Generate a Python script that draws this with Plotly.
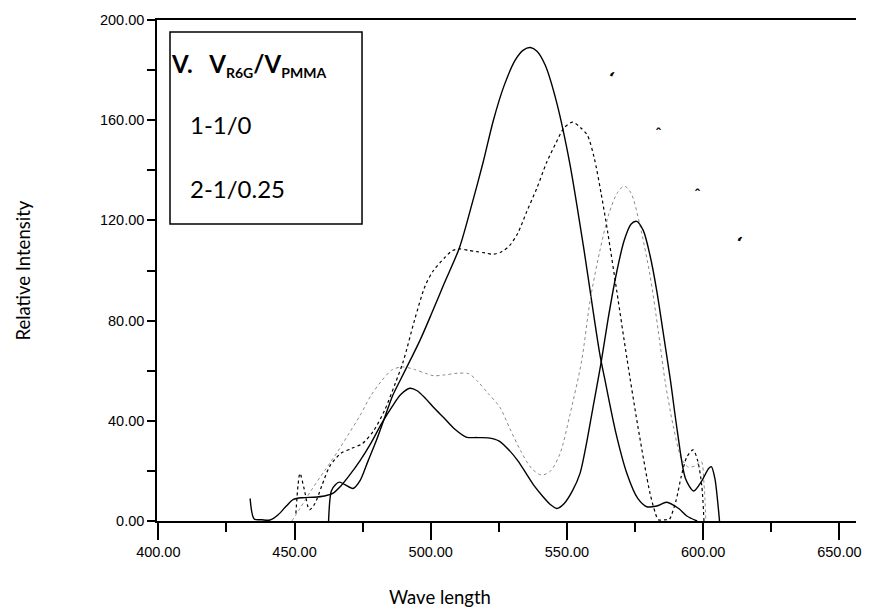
import plotly.graph_objects as go

# ---- data (wavelength nm, relative intensity) ----
a_x = [462.5, 463.5, 465, 466.5, 468.5, 471.5, 474, 477, 480, 483, 486, 488.7, 492.4, 496, 500, 505,
       510.5, 515, 519.3, 523, 527, 531, 534, 536.6, 539, 542, 546, 551, 556, 562, 564, 568, 572, 576,
       579.3, 583, 586.6, 591, 594, 597.8]
a_y = [0, 12, 14.5, 15.5, 14.5, 13, 16, 24, 32, 41, 50, 56, 64, 72, 82, 95,
       109, 126, 143.5, 160, 174, 184, 188, 189, 187.5, 182, 168, 143, 110, 67, 56, 35, 19, 9,
       5.7, 6, 7.5, 5, 2, 0]

b_x = [450.5, 452, 453.5, 455.5, 457.5, 460, 463, 467, 471, 475, 479, 483, 487, 490, 494, 498, 501,
       505, 508, 510.8, 514, 517, 520, 523, 526, 529, 532, 535.2, 539, 542.6, 546, 549, 552.1, 555,
       557.5, 560, 562.5, 565, 568.3, 572, 576, 580.5, 582.5, 583.5, 586.5, 587.5, 590, 592, 594,
       596.3, 598, 599.5, 600.3]
b_y = [3, 19, 13, 4.5, 7, 14, 22, 27, 29, 31, 36, 44, 55, 64, 80, 94, 100,
       105, 108, 108.6, 108, 107.5, 107, 106.5, 107.5, 110, 115, 123.4, 133, 143.3, 151, 157, 159.2, 157,
       154, 145, 131, 115, 91.7, 65, 38, 11, 3, 0.5, 0.5, 0.5, 8, 18, 25.5,
       28.4, 24, 14, 0]

c_x = [449, 452, 456, 461, 466, 470, 474, 478, 482, 486, 490, 494, 498, 501, 505, 510, 514, 517,
       521, 525.4, 529, 533, 537, 540.7, 544, 547.5, 551, 555.4, 558.5, 562, 565.5, 568.5, 571,
       573.5, 576.8, 580.5, 583.5, 586, 589, 592, 594.6, 597, 599.3, 600.3, 601]
c_y = [0, 5, 12, 20, 28, 35, 42, 50, 56, 60.5, 61.5, 60.5, 59, 58, 58.3, 59, 58.8, 56,
       51, 45.4, 37, 28, 21, 18.3, 20, 27, 42, 64, 88, 107.5, 123, 131, 133.7,
       131, 118, 98, 76, 56, 38, 25, 21.5, 22, 23.8, 15, 0]

d_x = [433.7, 435.2, 438, 441, 444, 447, 449.6, 453, 457, 461, 464, 467, 470, 474, 478, 482, 486,
       489, 492.4, 495, 498, 501, 505, 509, 513, 517, 521, 525, 529, 532, 535, 538, 541, 544, 546.3,
       549, 552, 554.8, 557, 559.5, 562.5, 565, 568, 571, 573.5, 575.6, 578, 580.5, 583, 585.5, 588,
       590.5, 593.5, 596.5, 599.5, 602, 603, 604.3, 605.3, 606]
d_y = [9, 0.8, 0.5, 0.4, 2.5, 6, 8.6, 9.3, 9.5, 10, 11, 14, 18, 24, 31, 39, 46,
       50.5, 53, 52, 49, 45.4, 41, 36.5, 33.5, 33.3, 33.2, 32, 28, 24, 19, 14, 10, 6.5, 5,
       7, 12, 19, 30, 45, 63, 80, 98, 112, 118.5, 119.6, 116, 106, 91.7, 74, 56,
       36, 17, 12, 16, 21, 21.7, 17, 8, 0]

x_ticks = [400, 450, 500, 550, 600, 650]
y_ticks = [0, 40, 80, 120, 160, 200]
x_title = "Wave length"
y_title = "Relative Intensity"
sub = "<sub><span style='font-size:14px'>{}</span></sub>"
legend_title = "V.&#160;&#160;&#160;V" + sub.format("R6G") + "/V" + sub.format("PMMA")
legend_rows = ["1-1/0", "2-1/0.25"]
stray_marks = ["<b>,</b>", "<b>ˆ</b>", "<b>ˆ</b>", "<b>,</b>"]

fig = go.Figure()
styles = [
    (a_x, a_y, dict(color="black", width=1.4)),
    (b_x, b_y, dict(color="black", width=1.2, dash="dot")),
    (c_x, c_y, dict(color="#8a8a8a", width=1.0, dash="dot")),
    (d_x, d_y, dict(color="black", width=1.4)),
]
for xs, ys, ln in styles:
    fig.add_trace(go.Scatter(x=xs, y=ys, mode="lines", line=dict(shape="spline", smoothing=0.8, **ln),
                             showlegend=False, hoverinfo="skip"))

tick_font = dict(family="Liberation Sans, Arial, sans-serif", size=14.5, color="black")
title_font = dict(family="Lato, Open Sans, sans-serif", size=18.5, color="black")
fig.update_layout(
    width=875, height=615,
    margin=dict(l=157, r=19, t=17, b=94),
    paper_bgcolor="white", plot_bgcolor="white",
    xaxis=dict(range=[399.52, 656.1], tickvals=x_ticks, ticktext=[f"{v:.2f}" for v in x_ticks],
               ticks="outside", ticklen=17, tickwidth=1.5, tickcolor="black",
               minor=dict(dtick=25, tick0=0, ticks="outside", ticklen=9, tickwidth=1.5, tickcolor="black"),
               showline=True, linecolor="black", linewidth=1.5, mirror=True,
               showgrid=False, zeroline=False, tickfont=tick_font),
    yaxis=dict(range=[0, 200], tickvals=y_ticks, ticktext=[f"{v:.2f}" for v in y_ticks],
               ticks="outside", ticklen=8, tickwidth=1.5, tickcolor="black",
               minor=dict(dtick=20, tick0=0, ticks="outside", ticklen=8, tickwidth=1.5, tickcolor="black"),
               showline=True, linecolor="black", linewidth=1.5, mirror=False,
               showgrid=False, zeroline=False, tickfont=tick_font),
)

# axis titles
fig.add_annotation(xref="paper", yref="paper", x=0.405, y=-0.151, text=x_title, showarrow=False,
                   xanchor="center", yanchor="middle", font=title_font)
fig.add_annotation(xref="paper", yref="paper", x=-0.193, y=0.5, text=y_title, showarrow=False,
                   textangle=-90, xanchor="center", yanchor="middle", font=title_font)

# legend-like box
fig.add_shape(type="rect", xref="paper", yref="paper", x0=0.0186, x1=0.2933, y0=0.593, y1=0.976,
              line=dict(color="black", width=1.5), fillcolor="rgba(0,0,0,0)")
lf = "Lato, Open Sans, sans-serif"
fig.add_annotation(xref="paper", yref="paper", x=0.017, y=0.911, xanchor="left", yanchor="middle",
                   text="<b>" + legend_title + "</b>", showarrow=False,
                   font=dict(family=lf, size=24, color="black"))
fig.add_annotation(xref="paper", yref="paper", x=0.044, y=0.792, xanchor="left", yanchor="middle",
                   text=legend_rows[0], showarrow=False, font=dict(family=lf, size=24, color="black"))
fig.add_annotation(xref="paper", yref="paper", x=0.044, y=0.663, xanchor="left", yanchor="middle",
                   text=legend_rows[1], showarrow=False, font=dict(family=lf, size=24, color="black"))

# clipped curve-number fragments
for (px, py), t, ang in zip([(0.648, 0.905), (0.725, 0.792), (0.781, 0.67), (0.842, 0.555)],
                            stray_marks, [200, 0, 0, 200]):
    fig.add_annotation(xref="paper", yref="paper", x=px, y=py, text=t, showarrow=False, textangle=ang,
                       font=dict(family="DejaVu Sans", size=14, color="black"))

fig.write_html("out.html")
